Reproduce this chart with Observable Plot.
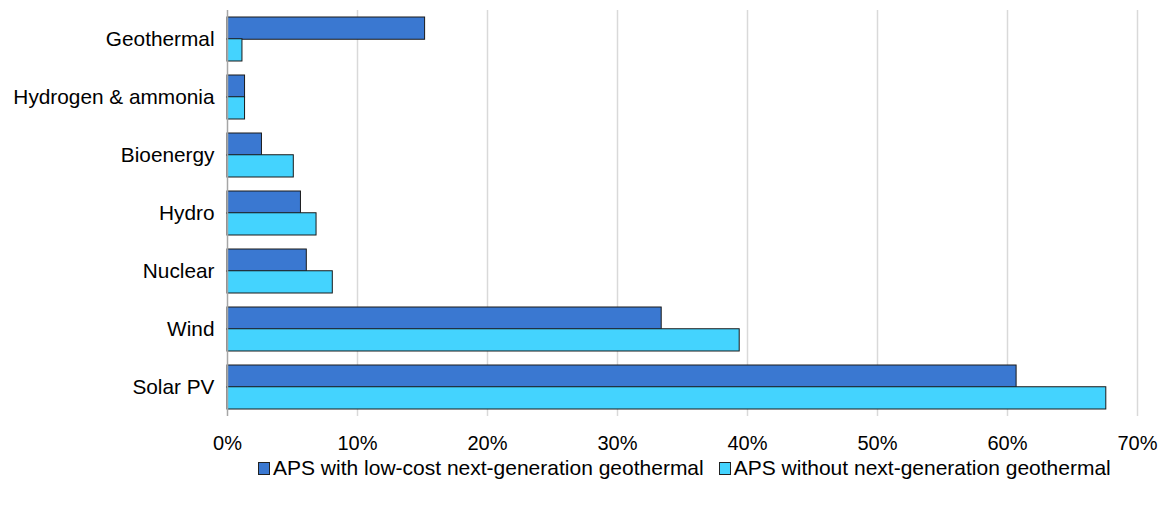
<!DOCTYPE html>
<html>
<head>
<meta charset="utf-8">
<script src="https://cdn.jsdelivr.net/npm/d3@7"></script>
<script src="https://cdn.jsdelivr.net/npm/@observablehq/plot@0.6"></script>
<style>
  html, body { margin: 0; padding: 0; background: #fff; }
  body { width: 1168px; height: 507px; overflow: hidden; font-family: "Liberation Sans", Arial, sans-serif; }
  #legend { display: flex; align-items: center; font-size: 21px; color: #000; padding-left: 258px; margin-top: 2px; }
  .item { display: flex; align-items: center; margin-right: 15px; }
  .sw { width: 10px; height: 11px; border: 1px solid #222; margin-right: 3px; }
  g[aria-label="y-axis tick label"] { font-size: 20.8px; }
</style>
</head>
<body>
<div id="chart"></div>
<div id="legend"></div>
<script>
const categories = ["Geothermal", "Hydrogen & ammonia", "Bioenergy", "Hydro", "Nuclear", "Wind", "Solar PV"];
const seriesNames = ["APS with low-cost next-generation geothermal", "APS without next-generation geothermal"];
const withGeo = [15.2, 1.35, 2.65, 5.65, 6.1, 33.4, 60.7];
const withoutGeo = [1.15, 1.35, 5.1, 6.85, 8.1, 39.4, 67.6];
const xTicks = [0, 10, 20, 30, 40, 50, 60, 70];
const colors = ["#3a78d1", "#44d3fe"];

const rows = categories.map((c, i) => ({category: c, a: withGeo[i], b: withoutGeo[i]}));

const plotTop = 10, plotBottom = 416, svgHeight = 454;
const nCat = categories.length;
const bandStep = (plotBottom - plotTop) / nCat;
const halfBar = bandStep * 0.75 / 2;

const plot = Plot.plot({
  width: 1168,
  height: svgHeight,
  marginTop: plotTop,
  marginBottom: svgHeight - plotBottom,
  marginLeft: 227,
  marginRight: 31,
  style: {fontFamily: "Liberation Sans, Arial, sans-serif", fontSize: "20px", color: "#000", background: "#fff"},
  x: {domain: [0, 70], ticks: xTicks, tickFormat: d => d + "%", tickSize: 0, tickPadding: 19, grid: false, label: null},
  y: {domain: categories, paddingInner: 0.25, paddingOuter: 0.125, tickSize: 0, tickPadding: 13, label: null},
  marks: [
    Plot.ruleX(xTicks.slice(1), {stroke: "#d9d9d9", strokeWidth: 1.5, strokeOpacity: 1}),
    Plot.barX(rows, {y: "category", x: "a", fill: colors[0], stroke: "#1a1a1a", strokeWidth: 1, insetBottom: halfBar}),
    Plot.barX(rows, {y: "category", x: "b", fill: colors[1], stroke: "#1a1a1a", strokeWidth: 1, insetTop: halfBar}),
    Plot.ruleX([0], {stroke: "#a6a6a6", strokeWidth: 1.5})
  ]
});
document.getElementById("chart").appendChild(plot);

const legend = document.getElementById("legend");
seriesNames.forEach((s, i) => {
  const it = document.createElement("div");
  it.className = "item";
  const sw = document.createElement("span");
  sw.className = "sw";
  sw.style.background = colors[i];
  const t = document.createElement("span");
  t.textContent = s;
  it.appendChild(sw);
  it.appendChild(t);
  legend.appendChild(it);
});
</script>
</body>
</html>
